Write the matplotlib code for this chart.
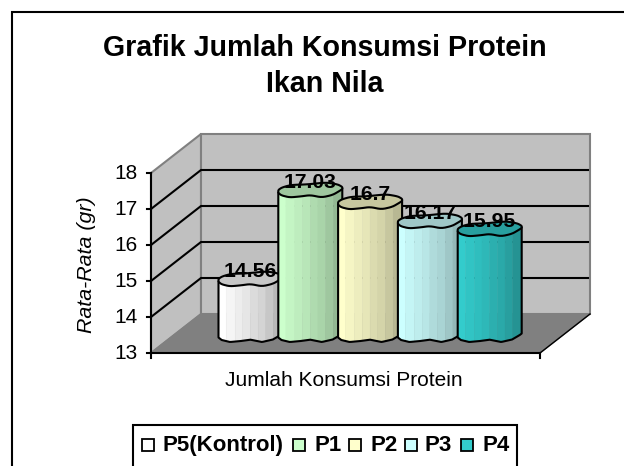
import numpy as np
import matplotlib
matplotlib.use("Agg")
import matplotlib.pyplot as plt
from matplotlib.patches import Polygon, Rectangle

# ---- data ----
categories = ["P5(Kontrol)", "P1", "P2", "P3", "P4"]
values = [14.56, 17.03, 16.7, 16.17, 15.95]
value_labels = ["14.56", "17.03", "16.7", "16.17", "15.95"]
y_ticks = [13, 14, 15, 16, 17, 18]
colors = ["#FFFFFF", "#CCFFCC", "#FFFFCC", "#CCFFFF", "#33CCCC"]
title_lines = ["Grafik Jumlah Konsumsi Protein", "Ikan Nila"]
x_label = "Jumlah Konsumsi Protein"
y_label = "Rata-Rata (gr)"

plt.rcParams["font.family"] = ["Liberation Sans", "DejaVu Sans"]
W, H = 624, 466
fig = plt.figure(figsize=(W / 100, H / 100), dpi=100)
ax = fig.add_axes([0, 0, 1, 1])
ax.set_xlim(0, W)
ax.set_ylim(H, 0)
ax.axis("off")

# projection of the 3-D box
X0, X1 = 151, 540
Y13, PX = 353, 36
DX, DY = 50, -39


def vy(v, depth=0.0):
    return Y13 - (v - y_ticks[0]) * PX + depth * DY


def vx(frac, depth=0.0):
    return X0 + frac * (X1 - X0) + depth * DX


vmax = y_ticks[-1]
vmin = y_ticks[0]

# frame (runs past the right and bottom edges of the picture)
ax.add_patch(Rectangle((12, 12), 700, 500, fc="white", ec="black", lw=1.5, zorder=0))

# walls and floor
ax.add_patch(Polygon([(vx(0), vy(vmin)), (vx(0, 1), vy(vmin, 1)), (vx(0, 1), vy(vmax, 1)), (vx(0), vy(vmax))],
                     fc="#C0C0C0", ec="#808080", lw=1.5, zorder=1))
ax.add_patch(Polygon([(vx(0, 1), vy(vmin, 1)), (vx(1, 1), vy(vmin, 1)), (vx(1, 1), vy(vmax, 1)), (vx(0, 1), vy(vmax, 1))],
                     fc="#C0C0C0", ec="#808080", lw=1.5, zorder=1))
ax.add_patch(Polygon([(vx(0), vy(vmin)), (vx(1), vy(vmin)), (vx(1, 1), vy(vmin, 1)), (vx(0, 1), vy(vmin, 1))],
                     fc="#808080", ec="#808080", lw=1, zorder=1))

# gridlines
for t in y_ticks[1:-1]:
    ax.plot([vx(0), vx(0, 1), vx(1, 1) - 2], [vy(t), vy(t, 1), vy(t, 1)], color="black", lw=1.5,
            solid_joinstyle="miter", zorder=2)

# axes
ax.plot([vx(0), vx(0)], [vy(vmax), vy(vmin) + 5], color="black", lw=1.5, zorder=3)
ax.plot([vx(0), vx(1)], [vy(vmin), vy(vmin)], color="black", lw=1.5, zorder=3)
ax.plot([vx(1), vx(1)], [vy(vmin), vy(vmin) + 5], color="black", lw=1.5, zorder=3)
ax.plot([vx(1), vx(1, 1)], [vy(vmin), vy(vmin, 1)], color="black", lw=1, zorder=3)
for t in y_ticks:
    ax.plot([vx(0) - 4, vx(0)], [vy(t), vy(t)], color="black", lw=1.5, zorder=3)
    ax.text(vx(0) - 13, vy(t) + 0.5, str(t), ha="right", va="center", fontsize=15, zorder=6)


def smooth(pts, n=2):
    p = np.array(pts, float)
    for _ in range(n):
        q = np.roll(p, -1, axis=0)
        p = np.column_stack([0.8 * p + 0.2 * q, 0.2 * p + 0.8 * q]).reshape(-1, 2)
    return p


# lumpy cylinder outline (fraction of width, pixel offset)
FRONT = [(0.0, 0), (0.05, 2.5), (0.18, 4.5), (0.35, 3.5), (0.5, 2.2), (0.68, 4.5), (0.85, 2), (0.97, -2.5), (1.0, -4)]
BACK = [(1.0, -6), (0.93, -8.5), (0.75, -10.5), (0.45, -8.5), (0.2, -8), (0.06, -5.5), (0.0, -3)]
STRIP = np.array([0.0, 0.12, 0.26, 0.38, 0.5, 0.62, 0.74, 0.86, 1.0])
SHADE = np.array([1.0, 0.96, 0.93, 0.90, 0.86, 0.83, 0.78, 0.72])


def front_dy(f):
    return np.interp(f, [a for a, _ in FRONT], [b for _, b in FRONT])


BAR_W = 64
STEP = 59.8
BAR_X0 = 218.5
BASE_Y = 337.5
for i, (v, c) in enumerate(zip(values, colors)):
    x0 = BAR_X0 + i * STEP
    top = BASE_Y - (v - vmin) * PX + 0.5
    base = np.array(matplotlib.colors.to_rgb(c))
    z = 10 + i
    fs = np.linspace(0, 1, 41)
    for k in range(len(SHADE)):
        m = (fs >= STRIP[k]) & (fs <= STRIP[k + 1])
        f = np.r_[STRIP[k], fs[m], STRIP[k + 1]]
        xs = x0 + f * BAR_W
        poly = np.r_[np.column_stack([xs, top + front_dy(f)]),
                     np.column_stack([xs[::-1], BASE_Y + front_dy(f[::-1])])]
        ax.add_patch(Polygon(poly, fc=base * SHADE[k], ec=base * SHADE[k], lw=0.3, zorder=z))
    f = np.linspace(0, 1, 41)
    xs = x0 + f * BAR_W
    ax.plot(np.r_[x0, xs, x0 + BAR_W], np.r_[top, BASE_Y + front_dy(f), top - 4],
            color="black", lw=1.5, zorder=z + 0.2)
    tp = [(x0 + a * BAR_W, top + b) for a, b in FRONT] + [(x0 + a * BAR_W, top + b) for a, b in BACK]
    ax.add_patch(Polygon(smooth(tp), fc=base * 0.78, ec="black", lw=1.5, joinstyle="round", zorder=z + 0.4))

for i, (v, s) in enumerate(zip(values, value_labels)):
    x0 = BAR_X0 + i * STEP
    ax.text(x0 + BAR_W * 0.5, BASE_Y - (v - vmin) * PX - 10, s, ha="center", va="center",
            fontsize=15.2, fontweight="bold", zorder=30)

ax.text(344, 386.5, x_label, ha="center", va="baseline", fontsize=15, zorder=6)
ax.text(86, 265, y_label, ha="center", va="center", rotation=90, style="italic", fontsize=15.4, zorder=6)
for line, yy in zip(title_lines, [56, 92]):
    ax.text(324.5, yy, line, ha="center", va="baseline", fontsize=20.6, fontweight="bold", zorder=6)

# legend
ax.add_patch(Rectangle((133, 425), 384, 60, fc="white", ec="black", lw=1.5, zorder=6))
lx = [142, 293, 349, 405, 461]
tx = [162, 314, 370, 425, 482]
for c, name, a, b in zip(colors, categories, lx, tx):
    ax.add_patch(Rectangle((a, 439), 12, 12, fc=c, ec="black", lw=1.3, zorder=7))
    ax.text(b, 445.5, name, ha="left", va="center", fontsize=16, fontweight="bold", zorder=7)

fig.savefig("out.png", dpi=100)
